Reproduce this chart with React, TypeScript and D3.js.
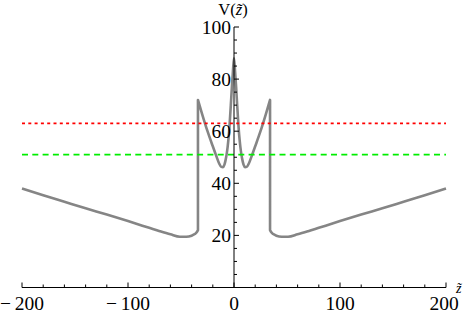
import React from "react";
import * as d3 from "d3";

// Potential curve (z, V)
const outerLeftZ = [-200, -180, -160, -140, -120, -100, -80, -70, -60, -51, -45, -40, -37, -35, -34];
const outerLeftV = [38, 35.4, 32.9, 30.4, 28, 25.5, 22.9, 21.6, 20.4, 19.5, 19.5, 19.9, 20.5, 21.3, 22];
const innerZ = [-34, -30, -25, -20, -17, -14, -12, -10.5, -9, -8, -7, -6, -5, -4, -3, -2, -1, 0,
  1, 2, 3, 4, 5, 6, 7, 8, 9, 10.5, 12, 14, 17, 20, 25, 30, 34];
const innerV = [72, 66.5, 60, 54.2, 50.8, 47.6, 46.3, 46.2, 47.2, 48.8, 51, 54, 58, 63.5, 70, 77, 83, 88,
  83, 77, 70, 63.5, 58, 54, 51, 48.8, 47.2, 46.2, 46.3, 47.6, 50.8, 54.2, 60, 66.5, 72];
const outerRightZ = [34, 35, 37, 40, 45, 51, 60, 70, 80, 100, 120, 140, 160, 180, 200];
const outerRightV = [22, 21.3, 20.5, 19.9, 19.5, 19.5, 20.4, 21.6, 22.9, 25.5, 28, 30.4, 32.9, 35.4, 38];

const redLevel = 63;
const greenLevel = 51;

const xTicksMajor = [-200, -100, 0, 100, 200];
const xTickLabels = ["\u2212\u2009200", "\u2212\u2009100", "0", "100", "200"];
const xTicksMinor = d3.range(-200, 201, 20);
const yTicksMajor = [20, 40, 60, 80, 100];
const yTicksMinor = d3.range(5, 101, 5);

export default function App() {
  const W = 464, H = 313;
  const x = d3.scaleLinear().domain([-200, 200]).range([22, 446]);
  const y = d3.scaleLinear().domain([0, 100]).range([287.5, 27]);

  const seg = (zs: number[], vs: number[]) =>
    d3.line<number>().x((_, i) => x(zs[i])).y((_, i) => y(vs[i])).curve(d3.curveMonotoneX)(zs.map((_, i) => i)) || "";
  const p1 = seg(outerLeftZ, outerLeftV);
  const p2 = seg(innerZ, innerV).replace(/^M/, "L");
  const p3 = seg(outerRightZ, outerRightV).replace(/^M/, "L");
  const curvePath = p1 + p2 + p3;

  const font = "'Liberation Serif', 'Times New Roman', serif";
  const x0 = x(0);
  const y0 = y(0);

  return (
    <svg width={W} height={H} style={{ position: "absolute", left: 0, top: 0, background: "#fff" }}>
      {/* curve */}
      <path d={curvePath} fill="none" stroke="#858585" strokeWidth={2.6} strokeLinejoin="round" />
      {/* reference levels */}
      <line x1={x(-200)} x2={x(200)} y1={y(redLevel)} y2={y(redLevel)} stroke="#ff0000" strokeWidth={1.7} strokeDasharray="3,3.3" />
      <line x1={x(-200)} x2={x(200)} y1={y(greenLevel)} y2={y(greenLevel)} stroke="#00ee00" strokeWidth={1.9} strokeDasharray="6,4.3" />
      {/* x axis */}
      <line x1={x(-200)} x2={x(200)} y1={y0} y2={y0} stroke="#000" strokeWidth={1} />
      {xTicksMinor.map((t) => (
        <line key={"xm" + t} x1={x(t)} x2={x(t)} y1={y0} y2={y0 - (xTicksMajor.includes(t) ? 5 : 3)} stroke="#000" strokeWidth={1} />
      ))}
      {xTicksMajor.map((t, i) => (
        <text key={"xl" + t} x={x(t) - (t === 200 ? 2 : 0)} y={310} textAnchor="middle" fontFamily={font} fontSize={19.5} fill="#000">
          {xTickLabels[i]}
        </text>
      ))}
      <text x={456} y={293} fontFamily={font} fontSize={14} fontStyle="italic" fill="#000">z&#x0303;</text>
      {/* y axis */}
      <line x1={x0} x2={x0} y1={y0} y2={y(100)} stroke="#000" strokeWidth={1} />
      {yTicksMinor.map((t) => (
        <line key={"ym" + t} x1={x0} x2={x0 + (yTicksMajor.includes(t) ? 5 : 3)} y1={y(t)} y2={y(t)} stroke="#000" strokeWidth={1} />
      ))}
      {yTicksMajor.map((t) => (
        <text key={"yl" + t} x={231} y={y(t) + 6.7} textAnchor="end" fontFamily={font} fontSize={19.5} fill="#000">
          {t}
        </text>
      ))}
      <text x={233} y={14.5} textAnchor="middle" fontFamily={font} fontSize={16.5} fill="#000">
        V(<tspan fontStyle="italic">z&#x0303;</tspan>)
      </text>
    </svg>
  );
}
